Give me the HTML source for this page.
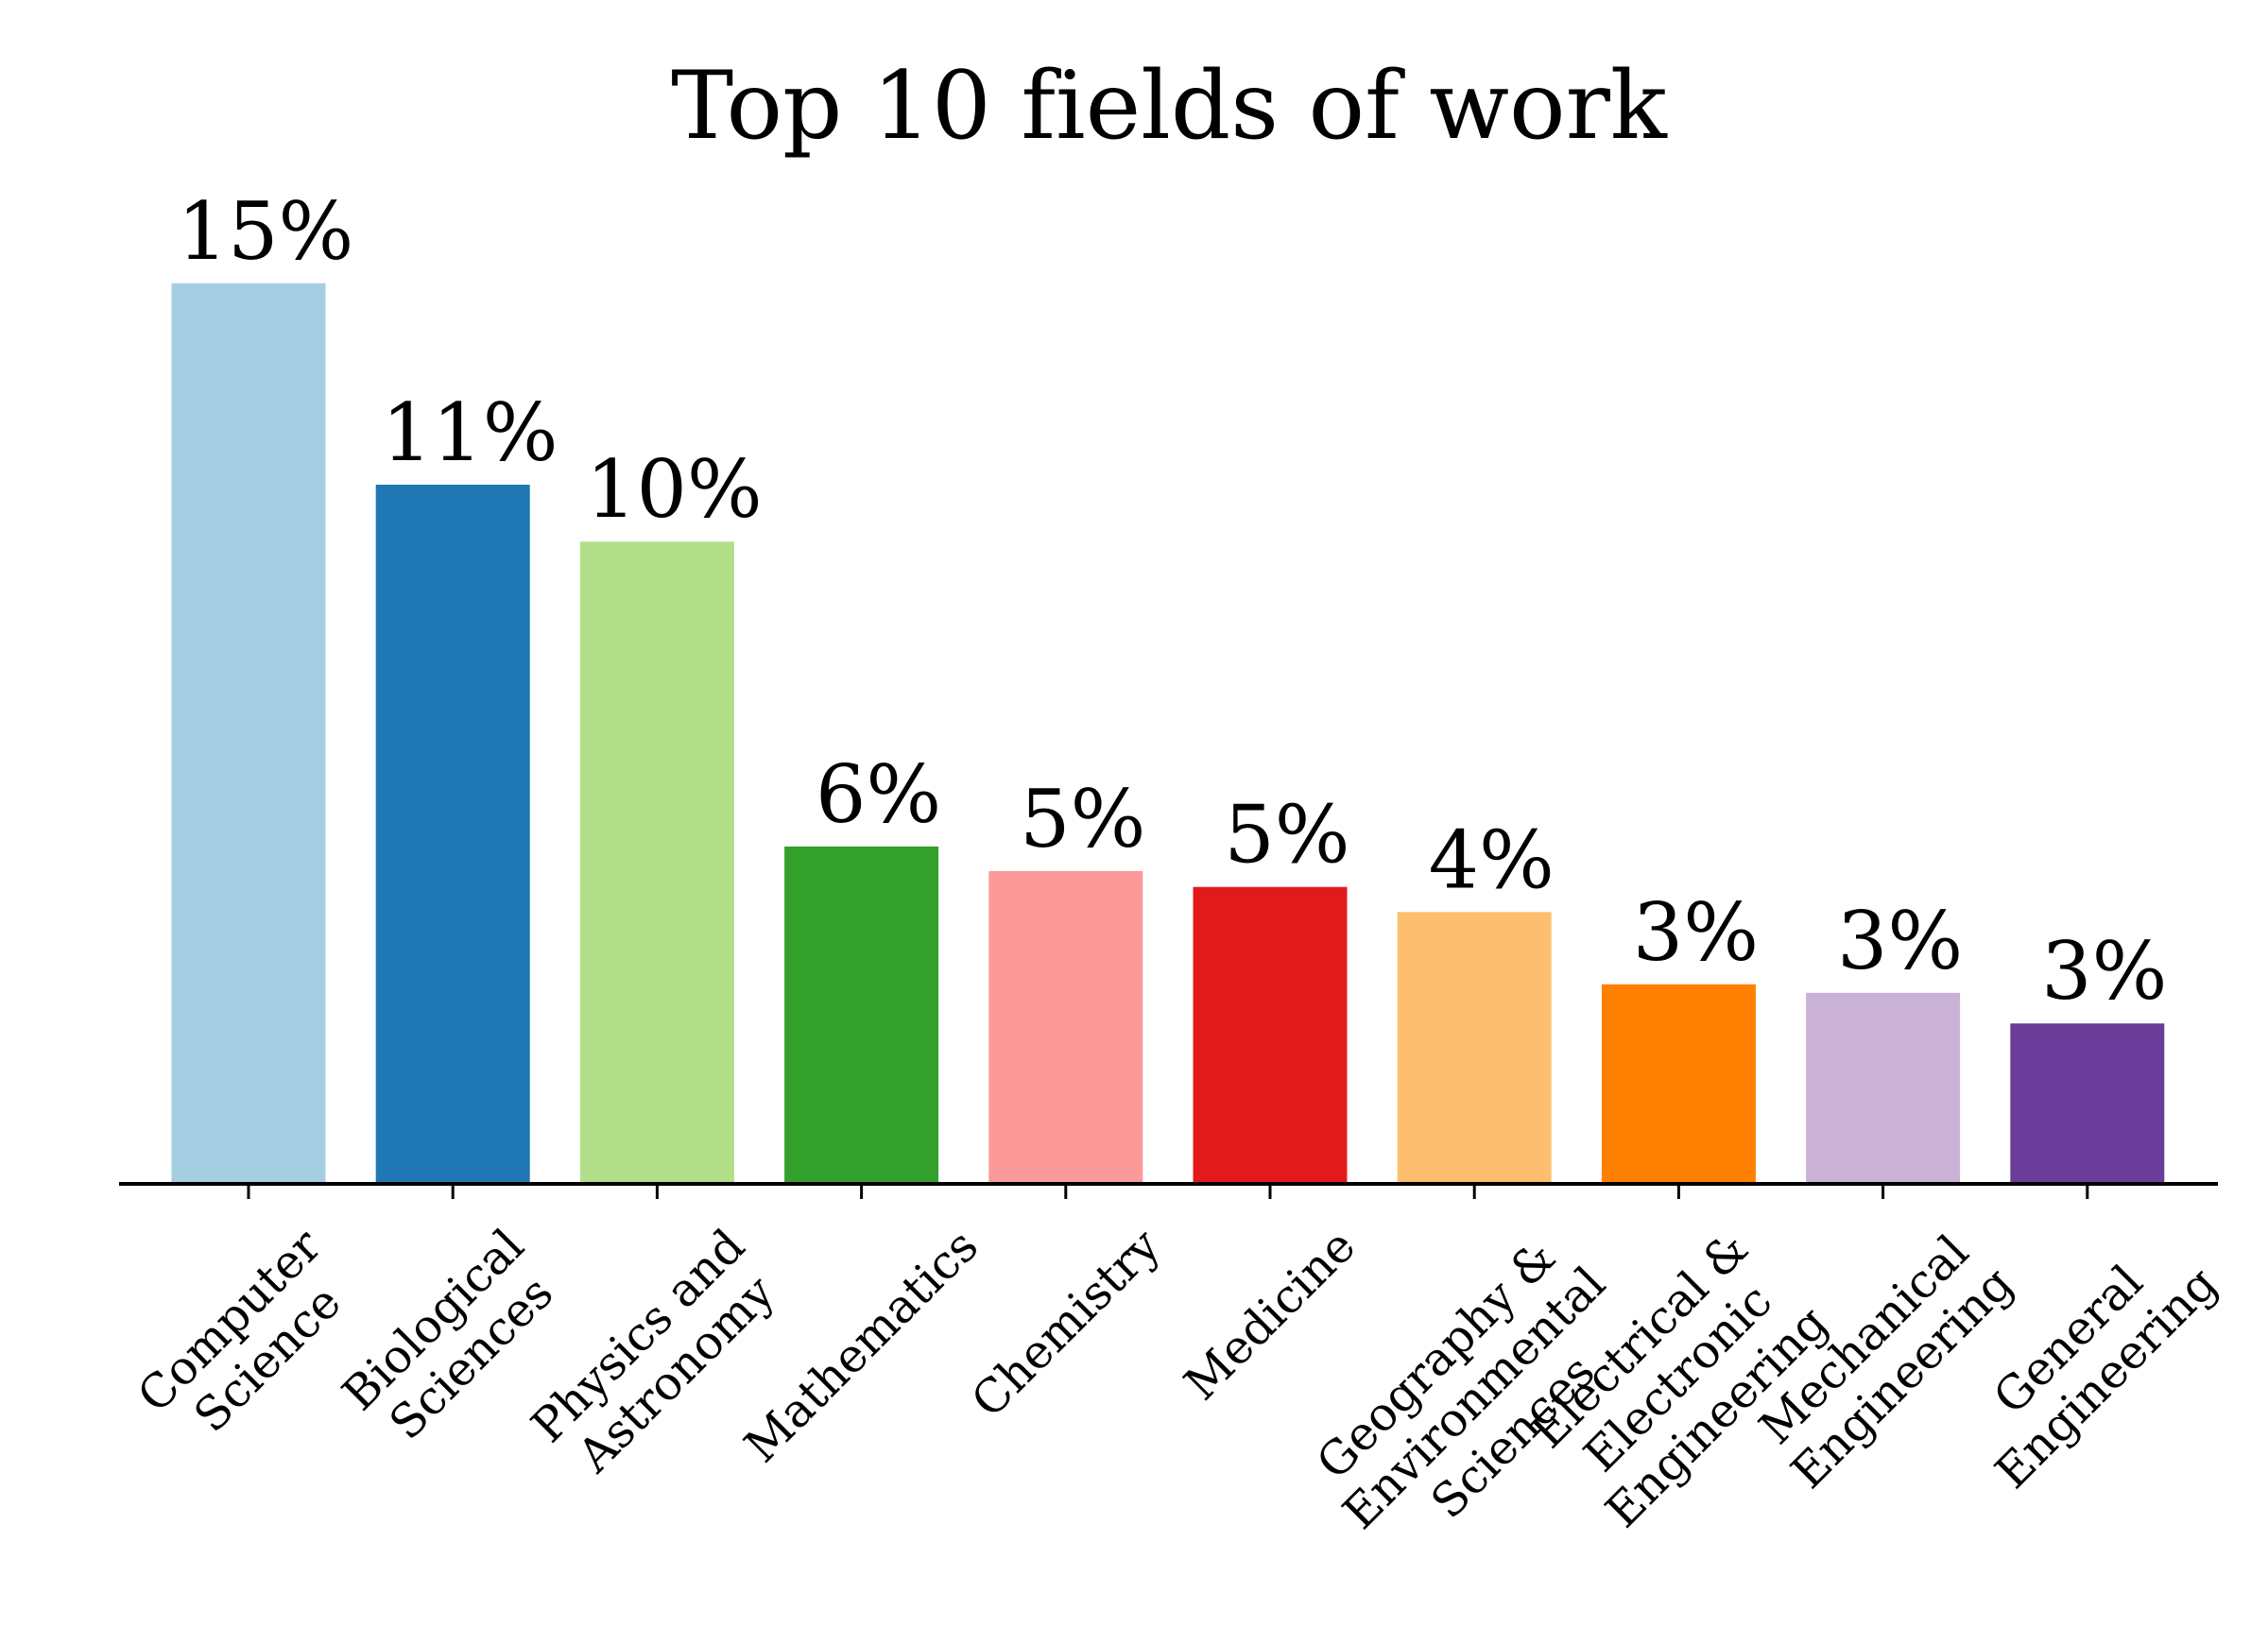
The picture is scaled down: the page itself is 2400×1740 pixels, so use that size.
<!DOCTYPE html>
<html><head><meta charset="utf-8"><style>
html,body{margin:0;padding:0;background:#fff;}
#wrap{position:relative;width:2400px;height:1740px;overflow:hidden;font-family:"DejaVu Serif","Liberation Serif",serif;}
.tl{position:absolute;font-size:49px;line-height:1.17;text-align:center;white-space:pre;transform:rotate(-45deg);color:#000;}
svg text{font-variant-ligatures:none;}
</style></head><body>
<div id="wrap">
<svg id="svg" width="2400" height="1740" style="position:absolute;left:0;top:0">
<text x="1237" y="146" text-anchor="middle" font-family="DejaVu Serif, Liberation Serif, serif" font-size="99" fill="#000" style="font-variant-ligatures:none">Top 10 fields of work</text>
</svg>
</div>
<script>
const categories = ["Computer\nScience","Biological\nSciences","Physics and\nAstronomy","Mathematics","Chemistry","Medicine","Geography &\nEnvironmental\nSciences","Electrical &\nElectronic\nEngineering","Mechanical\nEngineering","General\nEngineering"];
const values = [14.71, 11.42, 10.49, 5.51, 5.11, 4.85, 4.44, 3.26, 3.12, 2.62];
const colors = ["#a6cee3","#1f78b4","#b2df8a","#33a02c","#fb9a99","#e31a1c","#fdbf6f","#ff7f00","#cab2d6","#6a3d9a"];

const NS = "http://www.w3.org/2000/svg";
const svg = document.getElementById('svg');
const wrap = document.getElementById('wrap');
const x0 = 263, step = 216.2, barW = 163, baseY = 1253, pxPer = 64.8;
function xScale(i){ return x0 + i*step; }
function yScale(v){ return baseY - v*pxPer; }

values.forEach((v,i)=>{
  const cx = xScale(i);
  const r = document.createElementNS(NS,'rect');
  r.setAttribute('x', cx - barW/2);
  r.setAttribute('y', yScale(v));
  r.setAttribute('width', barW);
  r.setAttribute('height', baseY - yScale(v));
  r.setAttribute('fill', colors[i]);
  
  
  svg.appendChild(r);
  const t = document.createElementNS(NS,'text');
  t.setAttribute('x', cx + 18);
  t.setAttribute('y', yScale(v) - 26);
  t.setAttribute('text-anchor', 'middle');
  t.setAttribute('font-family', 'DejaVu Serif, Liberation Serif, serif');
  t.setAttribute('font-size', '84');
  t.textContent = Math.round(v) + '%';
  
  
  svg.appendChild(t);
  const tk = document.createElementNS(NS,'line');
  tk.setAttribute('x1', cx); tk.setAttribute('x2', cx);
  tk.setAttribute('y1', baseY); tk.setAttribute('y2', baseY + 16);
  tk.setAttribute('stroke', '#000'); tk.setAttribute('stroke-width', '3');
  
  
  svg.appendChild(tk);
});
const ax = document.createElementNS(NS,'line');
ax.setAttribute('x1', 126); ax.setAttribute('x2', 2347);
ax.setAttribute('y1', baseY); ax.setAttribute('y2', baseY);
ax.setAttribute('stroke', '#000'); ax.setAttribute('stroke-width', '4');


svg.appendChild(ax);

categories.forEach((c,i)=>{
  const d = document.createElement('div');
  d.className = 'tl';
  d.textContent = c;
  
  
  d.style.left = '0px'; d.style.top = '0px';
  wrap.appendChild(d);
  const rc = d.getBoundingClientRect();
  const wr = wrap.getBoundingClientRect();
  const cxNow = (rc.left + rc.right)/2 - wr.left;
  const topNow = rc.top - wr.top;
  d.style.left = (xScale(i) - cxNow) + 'px';
  d.style.top = (1290 - topNow) + 'px';
});
</script>
</body></html>
